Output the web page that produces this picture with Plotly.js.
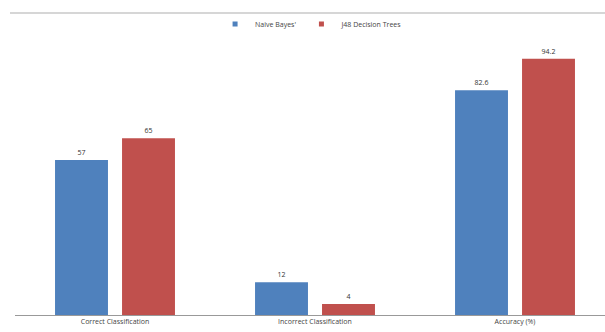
<!DOCTYPE html>
<html>
<head>
<meta charset="utf-8">
<script src="https://cdn.plot.ly/plotly-3.0.1.min.js"></script>
<style>html,body{margin:0;padding:0;background:#fff;}#chart{width:605px;height:332px;}</style>
</head>
<body>
<div id="chart"></div>
<script>
const categories = ["Correct Classification", "Incorrect Classification", "Accuracy (%)"];
const naiveBayes = [57, 12, 82.6];
const j48 = [65, 4, 94.2];
const seriesNames = ["Naive Bayes'", "J48 Decision Trees"];
const seriesColors = ['#4F81BD', '#C0504D'];

const fontFam = 'Open Sans, sans-serif';
const traces = [
  {type: 'bar', name: seriesNames[0], x: categories, y: naiveBayes, showlegend: false,
   marker: {color: seriesColors[0]}, text: naiveBayes.map(String), textposition: 'outside',
   textfont: {size: 7, color: '#333', family: fontFam}, cliponaxis: false, hoverinfo: 'none'},
  {type: 'bar', name: seriesNames[1], x: categories, y: j48, showlegend: false,
   marker: {color: seriesColors[1]}, text: j48.map(String), textposition: 'outside',
   textfont: {size: 7, color: '#333', family: fontFam}, cliponaxis: false, hoverinfo: 'none'},
  // legend entries (small square swatches)
  {type: 'scatter', mode: 'markers', name: seriesNames[0], x: [null], y: [null],
   marker: {symbol: 'square', size: 5, color: seriesColors[0]}, hoverinfo: 'none'},
  {type: 'scatter', mode: 'markers', name: seriesNames[1], x: [null], y: [null],
   marker: {symbol: 'square', size: 5, color: seriesColors[1]}, hoverinfo: 'none'}
];

const layout = {
  width: 605, height: 332,
  margin: {l: 15, r: 0, t: 43, b: 17, pad: 0},
  paper_bgcolor: '#fff', plot_bgcolor: '#fff',
  barmode: 'group', bargap: 0.33, bargroupgap: 0.21,
  font: {family: fontFam, size: 7, color: '#444'},
  showlegend: true,
  legend: {orientation: 'h', xref: 'container', yref: 'container', x: 0.515, y: 0.928,
           xanchor: 'center', yanchor: 'middle', font: {size: 7, color: '#444'},
           itemwidth: 30, tracegroupgap: 0, bgcolor: 'rgba(0,0,0,0)'},
  xaxis: {type: 'category', range: [-0.5, 2.45], showgrid: false, zeroline: false,
          showline: true, linecolor: '#999', linewidth: 1, ticks: '',
          tickfont: {size: 7, color: '#444'}, fixedrange: true},
  yaxis: {range: [0, 100], visible: false, showgrid: false, zeroline: false, fixedrange: true},
  shapes: [
    {type: 'line', xref: 'paper', yref: 'paper', x0: -0.0085, x1: 1.0, y0: 1.11, y1: 1.11,
     line: {color: '#d6d6d6', width: 2}}
  ]
};

Plotly.newPlot('chart', traces, layout, {displayModeBar: false, staticPlot: true});
</script>
</body>
</html>
